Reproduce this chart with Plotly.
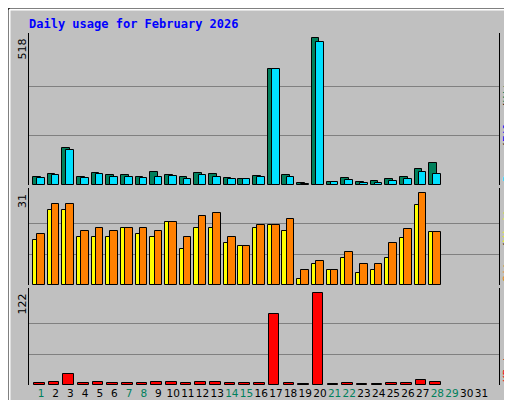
import plotly.graph_objects as go

days = list(range(1, 32))
hits  = [29,40,129,29,43,36,36,29,47,36,29,43,40,26,22,33,409,36,8,518,12,26,12,15,22,29,57,78]
files = [26,36,124,26,40,29,29,26,29,33,22,36,29,22,22,29,409,29,5,504,12,19,8,8,15,22,47,40]
sites = [15.2,25.3,25.3,16.2,16.2,16.2,19.2,17.2,16.2,21.2,12.1,19.2,19.2,14.2,13.1,19.2,20.2,18.2,2,7,5,9,4,5,9,16,27,18]
visits= [17.2,27.3,27.3,18.2,19.2,18.2,19.2,19.2,18.2,21.2,16.2,23.2,24.3,16.2,13.1,20.2,20.2,22.2,5,8,5,11,7,7,14,19,31,18]
kbytes= [3,4.4,14,3,4.4,3,3,3,4.4,4.4,3,4.4,4.4,3,3,3,94,3,1,122,1,3,1,1,3,3,6,4.4]
weekend = [1,7,8,14,15,21,22,28,29]
max_hits, max_visits, max_kb = 518, 31, 122

W, H = 512, 400
L, R, T, B = 21, 21, 25, 23
PW, PH = W - L - R, H - T - B

def px(x): return (x - L) / PW
def py(y): return (H - B - y) / PH

n = len(hits)
d = days[:n]
fig = go.Figure()
def bar(y, color, off, w, ax):
    fig.add_trace(go.Bar(x=d, y=y, offset=off, width=w, marker=dict(color=color, line=dict(color="black", width=1)),
                         xaxis="x", yaxis=ax, showlegend=False))
bar(hits, "#00805C", -0.55, 0.52, "y3")
bar(files, "#00E0FF", -0.27, 0.52, "y3")
bar(sites, "#FFFF00", -0.55, 0.52, "y2")
bar(visits, "#FF8000", -0.27, 0.52, "y2")
bar(kbytes, "#FF0000", -0.48, 0.72, "y")

ticktext = [f"<span style='color:{'#00805C' if k in weekend else 'black'}'>{k}</span>" for k in days]
yax = dict(showticklabels=False, ticks="", gridcolor="#808080", gridwidth=1, zeroline=False, automargin=False,
           showline=True, mirror=True, linecolor="black", linewidth=1, fixedrange=True)
fig.update_layout(
    width=W, height=H, margin=dict(l=L, r=R, t=T, b=B, autoexpand=False),
    paper_bgcolor="#C0C0C0", plot_bgcolor="#C0C0C0", barmode="overlay", bargap=0,
    font=dict(family="DejaVu Sans", size=11, color="black"),
    xaxis=dict(range=[0.18, 32.2], tickvals=days, ticktext=ticktext, showgrid=False, ticks="", tickangle=0,
               automargin=False, showline=False, zeroline=False, tickfont=dict(size=10.5)),
    yaxis=dict(domain=[0, py(280)], range=[0, max_kb * 97 / 91.7], tickvals=[max_kb/3, 2*max_kb/3], **yax),
    yaxis2=dict(domain=[py(277), py(180)], range=[0, max_visits * 97 / 92], tickvals=[max_visits/3, 2*max_visits/3], **yax),
    yaxis3=dict(domain=[py(177), 1], range=[0, max_hits * 152 / 147.4], tickvals=[max_hits/3, 2*max_hits/3], **yax),
)

ann = []
ann.append(dict(x=px(19), y=py(16), xref="paper", yref="paper", xanchor="left", yanchor="middle", showarrow=False,
                text="<b>Daily usage for February 2026</b>", font=dict(family="DejaVu Sans Mono", size=12, color="#0000FF")))
for val, ytop in [(max_hits, 29), (max_visits, 184), (max_kb, 284)]:
    ann.append(dict(x=px(14), y=py(ytop), xref="paper", yref="paper", xanchor="center", yanchor="top", showarrow=False,
                    text=str(val), textangle=-90, font=dict(size=11)))
def rlab(parts, ybot):
    txt = "<span style='color:black'>/</span>".join(f"<span style='color:{c}'>{t}</span>" for t, c in parts)
    ann.append(dict(x=px(499), y=py(ybot), xref="paper", yref="paper", xanchor="center", yanchor="bottom", showarrow=False,
                    text=txt, textangle=-90, font=dict(family="DejaVu Sans Mono", size=11)))
rlab([("Pages", "#00E0FF"), ("Files", "#0000FF"), ("Hits", "#00805C")], 176)
rlab([("Sites", "#FF8000"), ("Visits", "#FFFF00")], 276)
rlab([("KBytes", "#FF0000")], 376)
fig.update_layout(annotations=ann)

shapes = [
    dict(type="rect", xref="paper", yref="paper", x0=px(0.5), x1=px(511.5), y0=py(399.5), y1=py(0.5), line=dict(color="black", width=1)),
    dict(type="line", xref="paper", yref="paper", x0=px(1.5), x1=px(509), y0=py(1.5), y1=py(1.5), line=dict(color="white", width=2)),
    dict(type="line", xref="paper", yref="paper", x0=px(1.5), x1=px(1.5), y0=py(1.5), y1=py(397), line=dict(color="white", width=2)),
    dict(type="line", xref="paper", yref="paper", x0=px(3), x1=px(510), y0=py(397), y1=py(397), line=dict(color="#808080", width=4)),
    dict(type="line", xref="paper", yref="paper", x0=px(509), x1=px(509), y0=py(3), y1=py(398), line=dict(color="#808080", width=4)),
]
fig.update_layout(shapes=shapes)
fig.write_html("out.html")
